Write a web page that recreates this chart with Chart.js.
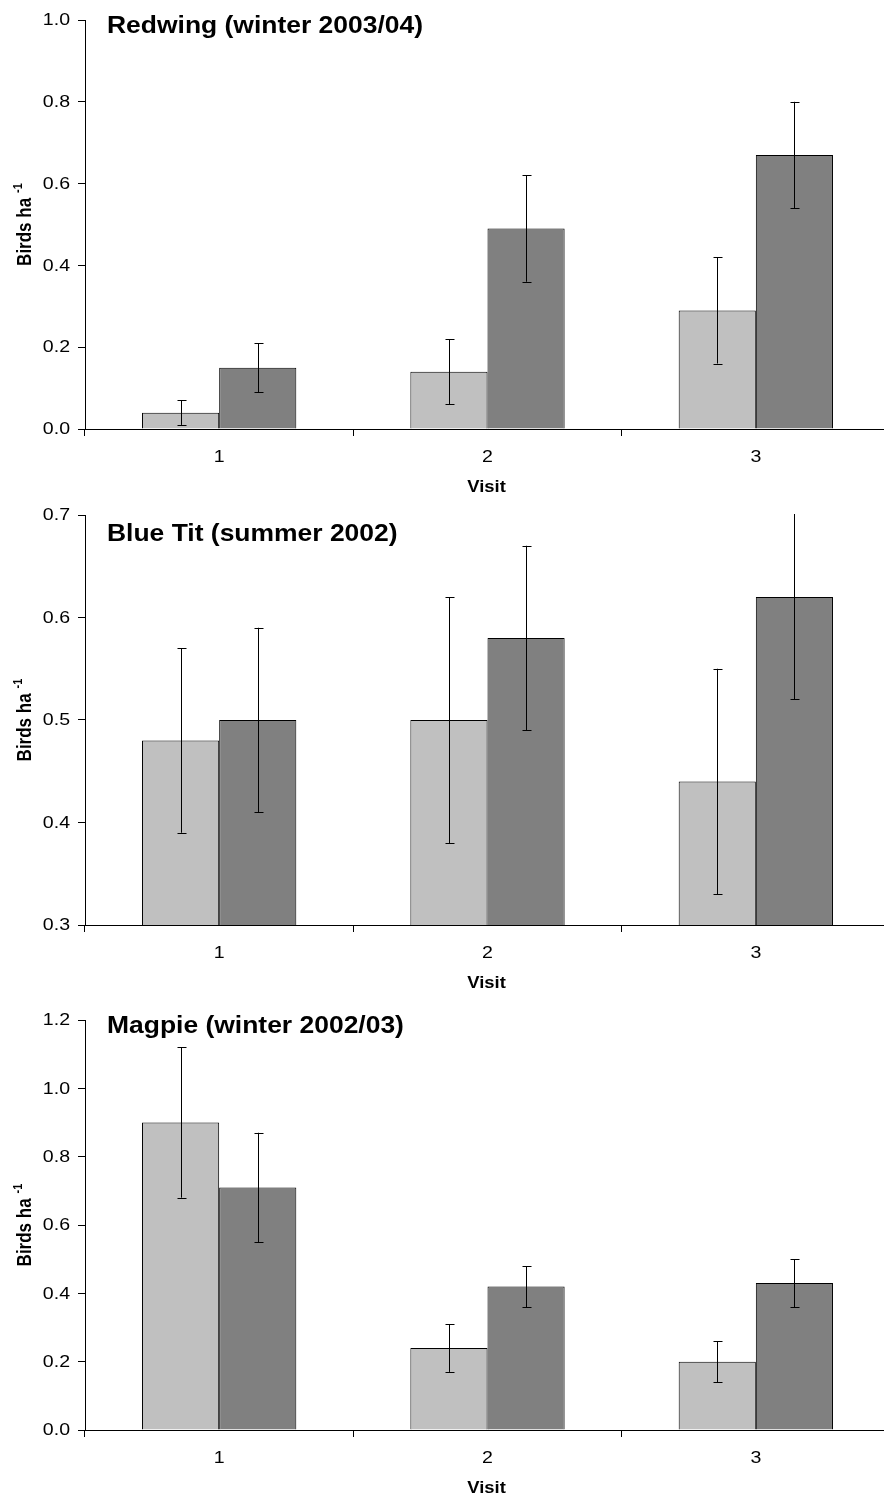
<!DOCTYPE html>
<html>
<head>
<meta charset="utf-8">
<script src="https://cdn.jsdelivr.net/npm/chart.js@4.4.1/dist/chart.umd.min.js"></script>
<style>
  html, body { margin: 0; padding: 0; background: #fff; overflow: hidden; width: 884px; height: 1499px; }
  canvas { position: absolute; left: 0; }
</style>
</head>
<body>
<canvas id="redwing" width="891" height="500" style="top:0px"></canvas>
<canvas id="bluetit" width="891" height="500" style="top:495px"></canvas>
<canvas id="magpie" width="891" height="499" style="top:1000px"></canvas>
<script>
// Visits (x categories)
const visits = ['1', '2', '3'];

// Redwing (winter 2003/04)
const redwingTitle = 'Redwing (winter 2003/04)';
const redwingTicks = [0.0, 0.2, 0.4, 0.6, 0.8, 1.0];
const redwingLight = [0.04, 0.14, 0.29];
const redwingLightLow = [0.01, 0.06, 0.16];
const redwingLightHigh = [0.07, 0.22, 0.42];
const redwingDark = [0.15, 0.49, 0.67];
const redwingDarkLow = [0.09, 0.36, 0.54];
const redwingDarkHigh = [0.21, 0.62, 0.80];

// Blue Tit (summer 2002)
const bluetitTitle = 'Blue Tit (summer 2002)';
const bluetitTicks = [0.3, 0.4, 0.5, 0.6, 0.7];
const bluetitLight = [0.48, 0.50, 0.44];
const bluetitLightLow = [0.39, 0.38, 0.33];
const bluetitLightHigh = [0.57, 0.62, 0.55];
const bluetitDark = [0.50, 0.58, 0.62];
const bluetitDarkLow = [0.41, 0.49, 0.52];
const bluetitDarkHigh = [0.59, 0.67, 0.72];

// Magpie (winter 2002/03)
const magpieTitle = 'Magpie (winter 2002/03)';
const magpieTicks = [0.0, 0.2, 0.4, 0.6, 0.8, 1.0, 1.2];
const magpieLight = [0.90, 0.24, 0.20];
const magpieLightLow = [0.68, 0.17, 0.14];
const magpieLightHigh = [1.12, 0.31, 0.26];
const magpieDark = [0.71, 0.42, 0.43];
const magpieDarkLow = [0.55, 0.36, 0.36];
const magpieDarkHigh = [0.87, 0.48, 0.50];

const xLabel = 'Visit';
const yLabel = 'Birds ha';
const yLabelSup = '-1';

const FONT = '"Liberation Sans", Arial, Helvetica, sans-serif';
const LIGHT = '#c0c0c0';
const DARK = '#808080';
const STRETCH = 1.15;   // slightly widened lettering

// draw text widened horizontally around its anchor
function wideText(ctx, text, x, y, font, align, baseline) {
  ctx.save();
  ctx.font = font;
  ctx.textAlign = align;
  ctx.textBaseline = baseline;
  ctx.translate(x, y);
  ctx.scale(STRETCH, 1);
  ctx.fillText(text, 0, 0);
  ctx.restore();
}

// Error bars, tick labels, panel title and axis titles drawn over each chart
function makeOverlay(title, titleBaseline, errors) {
  return {
    id: 'overlay',
    afterDatasetsDraw(chart) {
      const ctx = chart.ctx;
      const a = chart.chartArea;
      const ys = chart.scales.y;
      ctx.save();
      ctx.beginPath();
      ctx.rect(a.left, a.top - 1, a.right - a.left, a.bottom - a.top + 2);
      ctx.clip();
      ctx.strokeStyle = '#000';
      ctx.lineWidth = 1;
      errors.forEach((err, di) => {
        const meta = chart.getDatasetMeta(di);
        meta.data.forEach((bar, i) => {
          const x = Math.round(bar.x) + 0.5;
          const yl = ys.getPixelForValue(err.low[i]);
          const yh = ys.getPixelForValue(err.high[i]);
          ctx.beginPath();
          ctx.moveTo(x, yl);
          ctx.lineTo(x, yh);
          ctx.stroke();
          [yl, yh].forEach(v => {
            if (v >= a.top - 0.5 && v <= a.bottom + 0.5) {
              const yy = Math.round(v) + 0.5;
              ctx.beginPath();
              ctx.moveTo(x - 4, yy);
              ctx.lineTo(x + 5, yy);
              ctx.stroke();
            }
          });
        });
      });
      ctx.restore();
    },
    afterDraw(chart) {
      const ctx = chart.ctx;
      const a = chart.chartArea;
      const ys = chart.scales.y;
      const xs = chart.scales.x;
      ctx.save();
      ctx.fillStyle = '#000';
      // y tick labels
      ys.ticks.forEach(t => {
        wideText(ctx, Number(t.value).toFixed(1), 70, ys.getPixelForValue(t.value) + 0.5,
          '17px ' + FONT, 'right', 'middle');
      });
      // x tick labels
      visits.forEach((lab, i) => {
        wideText(ctx, lab, xs.getPixelForTick(i), a.bottom + 28, '17px ' + FONT, 'center', 'middle');
      });
      // panel title
      wideText(ctx, title, 107, titleBaseline, 'bold 23px ' + FONT, 'left', 'alphabetic');
      // x axis title
      wideText(ctx, xLabel, (a.left + a.right) / 2 - 1, a.bottom + 59, 'bold 16px ' + FONT, 'center', 'middle');
      // y axis title with superscript
      ctx.translate(24, (a.top + a.bottom) / 2);
      ctx.scale(STRETCH, 1);
      ctx.rotate(-Math.PI / 2);
      ctx.font = 'bold 17px ' + FONT;
      const w1 = ctx.measureText(yLabel).width + 5;
      ctx.font = 'bold 11px ' + FONT;
      const w2 = ctx.measureText(yLabelSup).width;
      const start = -(w1 + w2) / 2;
      ctx.textAlign = 'left';
      ctx.textBaseline = 'alphabetic';
      ctx.font = 'bold 17px ' + FONT;
      ctx.fillText(yLabel, start, 6);
      ctx.font = 'bold 11px ' + FONT;
      ctx.fillText(yLabelSup, start + w1, -2);
      ctx.restore();
    }
  };
}

function makeChart(id, cfg) {
  const canvas = document.getElementById(id);
  const H = canvas.height;
  const xAxisHeight = H - cfg.plotBottom;
  new Chart(canvas, {
    type: 'bar',
    data: {
      labels: visits,
      datasets: [
        { label: 'Series 1', data: cfg.light, backgroundColor: LIGHT, borderColor: '#000', borderWidth: 1 },
        { label: 'Series 2', data: cfg.dark, backgroundColor: DARK, borderColor: '#000', borderWidth: 1 }
      ]
    },
    options: {
      responsive: false,
      animation: false,
      events: [],
      layout: { padding: { top: cfg.plotTop, left: 0, right: 1, bottom: 0 } },
      datasets: { bar: { categoryPercentage: 0.575, barPercentage: 1.0 } },
      plugins: { legend: { display: false }, tooltip: { enabled: false }, title: { display: false } },
      scales: {
        x: {
          type: 'category',
          offset: true,
          grid: { offset: true, drawOnChartArea: false, drawTicks: true, tickLength: 7, color: '#000', tickColor: '#000' },
          border: { display: true, color: '#000', width: 1 },
          ticks: { display: false },
          afterFit(scale) { scale.height = xAxisHeight; }
        },
        y: {
          min: cfg.ticks[0],
          max: cfg.ticks[cfg.ticks.length - 1],
          afterBuildTicks(scale) { scale.ticks = cfg.ticks.map(v => ({ value: v })); },
          grid: { drawOnChartArea: false, drawTicks: true, tickLength: 7, color: '#000', tickColor: '#000' },
          border: { display: true, color: '#000', width: 1 },
          ticks: { display: false },
          afterFit(scale) { scale.width = 85; }
        }
      }
    },
    plugins: [makeOverlay(cfg.title, cfg.titleBaseline, [
      { low: cfg.lightLow, high: cfg.lightHigh },
      { low: cfg.darkLow, high: cfg.darkHigh }
    ])]
  });
}

makeChart('redwing', {
  title: redwingTitle, titleBaseline: 33, plotTop: 20, plotBottom: 429, ticks: redwingTicks,
  light: redwingLight, lightLow: redwingLightLow, lightHigh: redwingLightHigh,
  dark: redwingDark, darkLow: redwingDarkLow, darkHigh: redwingDarkHigh
});
makeChart('bluetit', {
  title: bluetitTitle, titleBaseline: 46, plotTop: 20, plotBottom: 430, ticks: bluetitTicks,
  light: bluetitLight, lightLow: bluetitLightLow, lightHigh: bluetitLightHigh,
  dark: bluetitDark, darkLow: bluetitDarkLow, darkHigh: bluetitDarkHigh
});
makeChart('magpie', {
  title: magpieTitle, titleBaseline: 33, plotTop: 20, plotBottom: 430, ticks: magpieTicks,
  light: magpieLight, lightLow: magpieLightLow, lightHigh: magpieLightHigh,
  dark: magpieDark, darkLow: magpieDarkLow, darkHigh: magpieDarkHigh
});
</script>
</body>
</html>
